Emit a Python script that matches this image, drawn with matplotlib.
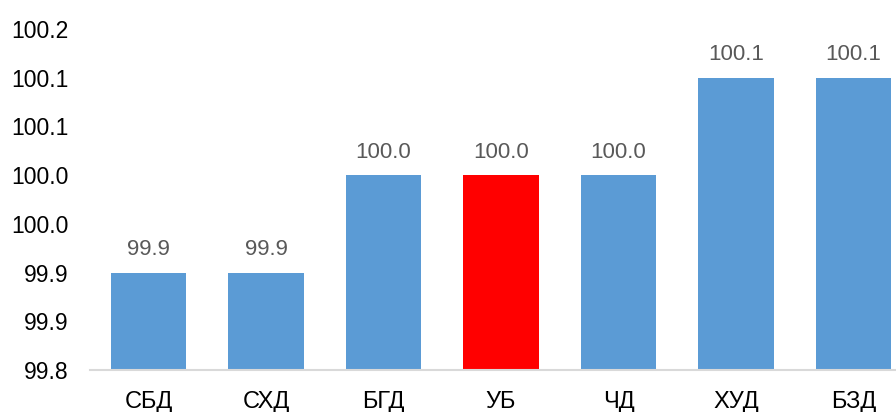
import matplotlib.pyplot as plt
from matplotlib.ticker import MultipleLocator, FormatStrFormatter

plt.rcParams['font.family'] = ['Liberation Sans', 'DejaVu Sans']

categories = ['СБД', 'СХД', 'БГД', 'УБ', 'ЧД', 'ХУД', 'БЗД']
values = [99.9, 99.9, 100.0, 100.0, 100.0, 100.1, 100.1]
highlight = 'УБ'

blue = '#5B9BD5'
red = '#FF0000'

fig = plt.figure(figsize=(8.96, 4.12), dpi=100)
ax = fig.add_axes([0.1002, 0.102, 0.918, 0.828])

x = range(len(categories))
colors = [red if c == highlight else blue for c in categories]
bars = ax.bar(x, values, width=0.643, color=colors, bottom=0)

ax.set_ylim(99.8, 100.15)
ax.set_xlim(-0.5, len(categories) - 0.5)
ax.yaxis.set_major_locator(MultipleLocator(0.05))
ax.yaxis.set_major_formatter(FormatStrFormatter('%.1f'))

ax.set_xticks(list(x))
ax.set_xticklabels(categories)
ax.tick_params(axis='x', length=0, pad=15, labelsize=17, colors='#000000')
ax.tick_params(axis='y', length=0, pad=15, labelsize=16.5, colors='#000000')

for spine in ['top', 'right', 'left']:
    ax.spines[spine].set_visible(False)
ax.spines['bottom'].set_color('#D9D9D9')
ax.spines['bottom'].set_linewidth(1.5)

# data labels above bars
for xi, v in zip(x, values):
    ax.annotate(f'{v:.1f}', (xi, v), xytext=(0, 9), textcoords='offset points',
                ha='center', va='bottom', fontsize=16, color='#595959',
                annotation_clip=False)

fig.savefig('out.png', dpi=100)
